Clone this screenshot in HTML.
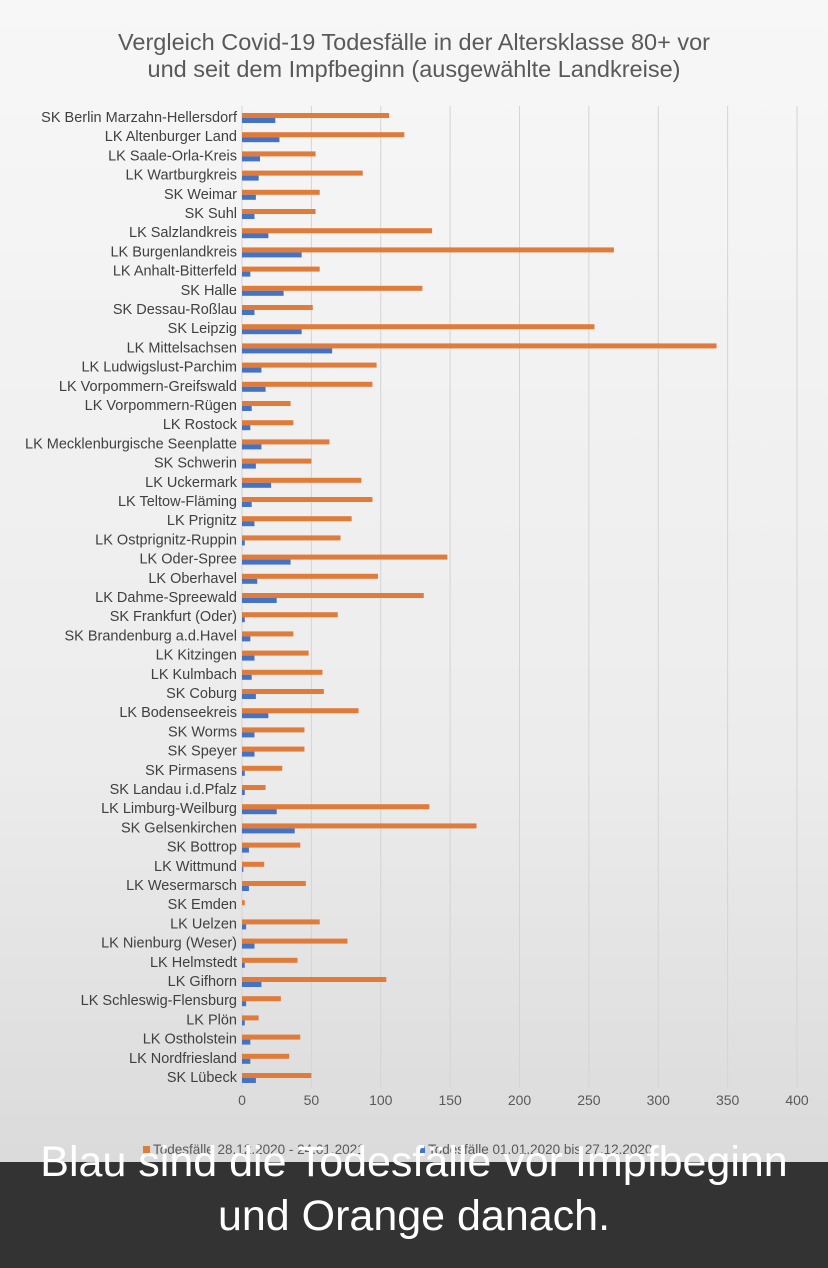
<!DOCTYPE html>
<html><head><meta charset="utf-8"><style>
body{margin:0;width:828px;height:1268px;overflow:hidden;font-family:"Liberation Sans",sans-serif;background:linear-gradient(#f7f7f7,#ececec 60%,#d6d6d6);}
#band{position:absolute;left:0;top:1162px;width:828px;height:106px;background:#333;}
.cap{position:absolute;left:0;width:828px;text-align:center;color:#fff;font-size:43px;}
</style></head><body>
<svg id="chart" width="828" height="1268" style="position:absolute;left:0;top:0"></svg>
<div id="band"></div>
<div class="cap" style="top:1138px">Blau sind die Todesfälle vor Impfbeginn</div>
<div class="cap" style="top:1192px">und Orange danach.</div>
<script>
const categories=["SK Berlin Marzahn-Hellersdorf","LK Altenburger Land","LK Saale-Orla-Kreis","LK Wartburgkreis","SK Weimar","SK Suhl","LK Salzlandkreis","LK Burgenlandkreis","LK Anhalt-Bitterfeld","SK Halle","SK Dessau-Roßlau","SK Leipzig","LK Mittelsachsen","LK Ludwigslust-Parchim","LK Vorpommern-Greifswald","LK Vorpommern-Rügen","LK Rostock","LK Mecklenburgische Seenplatte","SK Schwerin","LK Uckermark","LK Teltow-Fläming","LK Prignitz","LK Ostprignitz-Ruppin","LK Oder-Spree","LK Oberhavel","LK Dahme-Spreewald","SK Frankfurt (Oder)","SK Brandenburg a.d.Havel","LK Kitzingen","LK Kulmbach","SK Coburg","LK Bodenseekreis","SK Worms","SK Speyer","SK Pirmasens","SK Landau i.d.Pfalz","LK Limburg-Weilburg","SK Gelsenkirchen","SK Bottrop","LK Wittmund","LK Wesermarsch","SK Emden","LK Uelzen","LK Nienburg (Weser)","LK Helmstedt","LK Gifhorn","LK Schleswig-Flensburg","LK Plön","LK Ostholstein","LK Nordfriesland","SK Lübeck"];
const afterValues=[106,117,53,87,56,53,137,268,56,130,51,254,342,97,94,35,37,63,50,86,94,79,71,148,98,131,69,37,48,58,59,84,45,45,29,17,135,169,42,16,46,2,56,76,40,104,28,12,42,34,50];
const beforeValues=[24,27,13,12,10,9,19,43,6,30,9,43,65,14,17,7,6,14,10,21,7,9,2,35,11,25,2,6,9,7,10,19,9,9,2,2,25,38,5,1,5,0,3,9,2,14,3,2,6,6,10];
const ticks=[0,50,100,150,200,250,300,350,400];
const NS="http://www.w3.org/2000/svg",svg=document.getElementById('chart');
const x0=242,x1=797,xmax=400,yTop=118,step=19.2;
const xs=v=>x0+v*(x1-x0)/xmax, ys=i=>yTop+i*step;
function mk(t,a){const e=document.createElementNS(NS,t);for(const k in a)e.setAttribute(k,a[k]);svg.appendChild(e);return e;}
let t=mk('text',{x:414,y:50,'text-anchor':'middle','font-size':23.5,fill:'#595959'});t.textContent='Vergleich Covid-19 Todesfälle in der Altersklasse 80+ vor';

t=mk('text',{x:414,y:77,'text-anchor':'middle','font-size':23.5,fill:'#595959'});t.textContent='und seit dem Impfbeginn (ausgewählte Landkreise)';

ticks.forEach(v=>{
 const l=mk('line',{x1:xs(v),x2:xs(v),y1:106,y2:1088,stroke:'#d4d4d4','stroke-width':1});
 
 const tx=mk('text',{x:xs(v),y:1105,'text-anchor':'middle','font-size':14,fill:'#595959'});tx.textContent=v;
 
});
categories.forEach((c,i)=>{
 const y=ys(i);
 const lb=mk('text',{x:237,y:y+4,'text-anchor':'end','font-size':14.5,fill:'#404040'});lb.textContent=c;
 
 const o=mk('rect',{x:x0,y:y-5,width:xs(afterValues[i])-x0,height:5,fill:'#e07b39'});
 
 const b=mk('rect',{x:x0,y:y,width:xs(beforeValues[i])-x0,height:5,fill:'#4472c4'});
 
});
let lg=mk('rect',{x:143,y:1146,width:7,height:7,fill:'#e07b39'});

lg=mk('text',{x:153,y:1154,'font-size':13.5,fill:'#595959'});lg.textContent='Todesfälle 28.12.2020 - 24.01.2021';

lg=mk('rect',{x:418,y:1146,width:7,height:7,fill:'#4472c4'});

lg=mk('text',{x:428,y:1154,'font-size':13.5,fill:'#595959'});lg.textContent='Todesfälle 01.01.2020 bis 27.12.2020';

</script>
</body></html>
